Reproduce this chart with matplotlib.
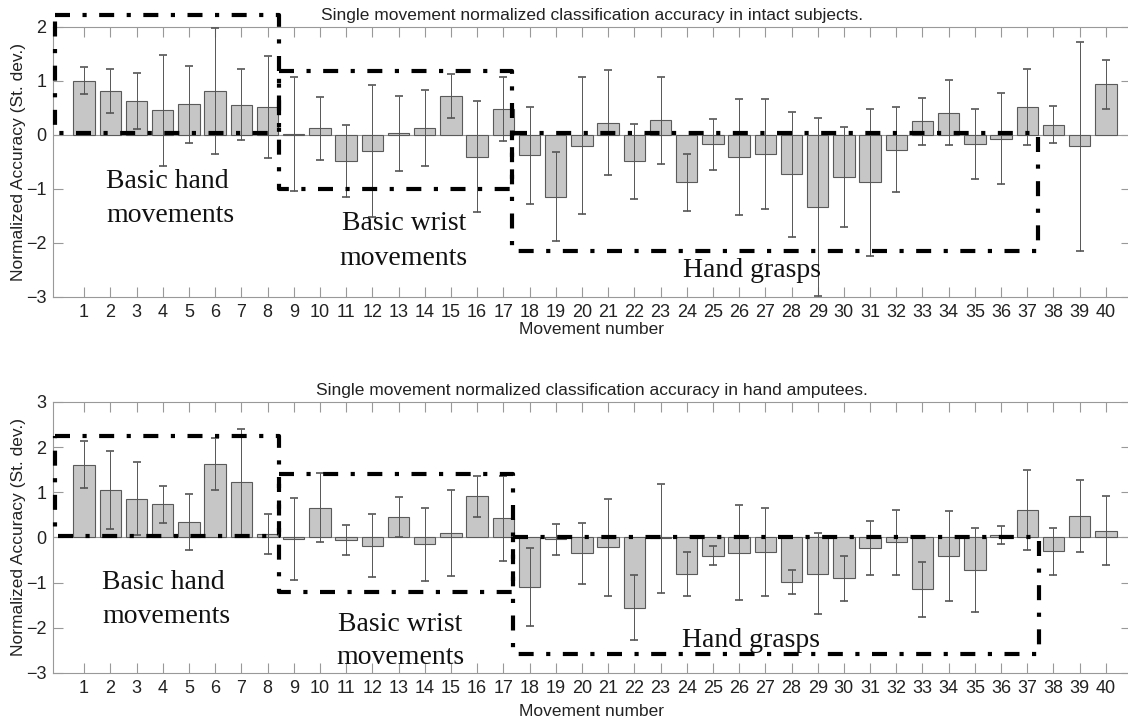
import numpy as np
import matplotlib
matplotlib.use('Agg')
import matplotlib.pyplot as plt

# movement numbers 1..40
movements = np.arange(1, 41)

# intact subjects: mean and std of normalized accuracy
intact_mean = [1.00, 0.81, 0.63, 0.46, 0.57, 0.82, 0.56, 0.52, 0.02, 0.12,
               -0.48, -0.29, 0.03, 0.13, 0.72, -0.40, 0.48, -0.38, -1.14, -0.20,
               0.23, -0.49, 0.27, -0.88, -0.17, -0.41, -0.36, -0.73, -1.34, -0.78,
               -0.88, -0.27, 0.25, 0.41, -0.17, -0.07, 0.52, 0.19, -0.21, 0.94]
intact_std = [0.25, 0.41, 0.52, 1.03, 0.71, 1.17, 0.66, 0.94, 1.05, 0.58,
              0.67, 1.22, 0.69, 0.71, 0.40, 1.03, 0.59, 0.90, 0.83, 1.27,
              0.97, 0.69, 0.80, 0.53, 0.47, 1.07, 1.02, 1.16, 1.65, 0.92,
              1.37, 0.78, 0.43, 0.60, 0.65, 0.84, 0.71, 0.34, 1.94, 0.45]

# hand amputees
amp_mean = [1.61, 1.05, 0.86, 0.74, 0.35, 1.63, 1.23, 0.08, -0.03, 0.66,
            -0.06, -0.18, 0.45, -0.15, 0.10, 0.91, 0.43, -1.10, -0.04, -0.35,
            -0.22, -1.56, -0.02, -0.81, -0.40, -0.34, -0.32, -0.99, -0.80, -0.90,
            -0.24, -0.11, -1.15, -0.41, -0.73, 0.06, 0.61, -0.31, 0.47, 0.15]
amp_std = [0.52, 0.86, 0.80, 0.41, 0.62, 0.57, 1.18, 0.44, 0.91, 0.76,
           0.33, 0.70, 0.45, 0.81, 0.96, 0.46, 0.94, 0.87, 0.34, 0.68,
           1.08, 0.72, 1.21, 0.49, 0.21, 1.05, 0.98, 0.26, 0.90, 0.50,
           0.60, 0.72, 0.60, 0.99, 0.93, 0.20, 0.88, 0.53, 0.80, 0.76]

titles = ['Single movement normalized classification accuracy in intact subjects.',
          'Single movement normalized classification accuracy in hand amputees.']

# group boxes: (x0, x1, y0, y1) per panel
intact_boxes = [(-0.1, 8.45, 0.04, 2.22), (8.45, 17.35, -1.0, 1.19),
                (17.35, 37.42, -2.15, 0.04)]
amp_boxes = [(-0.1, 8.45, 0.04, 2.25), (8.45, 17.38, -1.21, 1.41),
             (17.38, 37.45, -2.58, 0.02)]

# group labels: (text, x, y_baseline, ha)
intact_labels = [('Basic hand', 1.84, -0.98, 'left'), ('movements', 1.84, -1.61, 'left'),
                 ('Basic wrist', 13.2, -1.76, 'center'), ('movements', 13.2, -2.41, 'center'),
                 ('Hand grasps', 23.86, -2.63, 'left')]
amp_labels = [('Basic hand', 1.69, -1.15, 'left'), ('movements', 1.69, -1.90, 'left'),
              ('Basic wrist', 13.06, -2.08, 'center'), ('movements', 13.06, -2.80, 'center'),
              ('Hand grasps', 23.82, -2.43, 'left')]

plt.rcParams['font.family'] = ['Liberation Sans', 'DejaVu Sans']

fig = plt.figure(figsize=(11.28, 7.21), dpi=100)
ax1 = fig.add_axes([0.0467, 0.5881, 0.956, 0.3745])
ax2 = fig.add_axes([0.0467, 0.0666, 0.956, 0.3759])

panels = [(ax1, intact_mean, intact_std, intact_boxes, intact_labels, (-3, 2), 0.5),
          (ax2, amp_mean, amp_std, amp_boxes, amp_labels, (-3, 3), 5)]

for i, (ax, mean, std, boxes, labels, ylim, xpad) in enumerate(panels):
    ax.bar(movements, mean, width=0.82, color='#c6c6c6', edgecolor='#5a5a5a',
           linewidth=0.8, zorder=2)
    ax.errorbar(movements, mean, yerr=std, fmt='none', ecolor='#555555',
                elinewidth=0.7, capsize=3, capthick=1.2, zorder=3)
    ax.axhline(0, color='#999999', linewidth=0.8, zorder=1)

    for x0, x1, y0, y1 in boxes:
        ax.plot([x0, x1, x1, x0, x0], [y1, y1, y0, y0, y1], color='black',
                linewidth=3, linestyle=(0, (3.6, 3, 1, 3)), clip_on=False,
                zorder=4)
    for txt, x, y, ha in labels:
        ax.text(x, y, txt, ha=ha, va='baseline', fontsize=20,
                family='Liberation Serif', color='#111111', zorder=5)

    ax.set_xlim(-0.2, 40.96)
    ax.set_ylim(*ylim)
    ax.set_xticks(movements)
    ax.set_yticks(np.arange(ylim[0], ylim[1] + 1))
    ax.tick_params(direction='in', length=7, width=0.8, color='#999999',
                   labelsize=13, labelcolor='#222222', top=True, right=True)
    ax.tick_params(axis='x', pad=5)
    ax.tick_params(axis='y', pad=4.5)
    for s in ax.spines.values():
        s.set_color('#999999')
        s.set_linewidth(0.8)
    ax.set_title(titles[i], fontsize=12.5, pad=5, color='#222222')
    ax.set_xlabel('Movement number', fontsize=12.5, labelpad=xpad, color='#222222')
    ax.set_ylabel('Normalized Accuracy (St. dev.)', fontsize=12.5, labelpad=0,
                  color='#222222')

fig.savefig('out.png', dpi=100)
